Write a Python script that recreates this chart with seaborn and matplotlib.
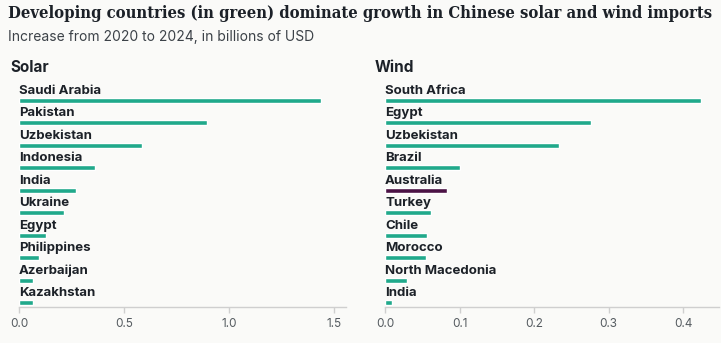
import matplotlib
matplotlib.use("Agg")
import matplotlib.pyplot as plt
import seaborn as sns
import pandas as pd

solar_countries = ["Saudi Arabia", "Pakistan", "Uzbekistan", "Indonesia", "India",
                   "Ukraine", "Egypt", "Philippines", "Azerbaijan", "Kazakhstan"]
solar_values = [1.437, 0.897, 0.586, 0.36, 0.271, 0.213, 0.127, 0.094, 0.068, 0.067]
solar_developing = [True] * 10

wind_countries = ["South Africa", "Egypt", "Uzbekistan", "Brazil", "Australia",
                  "Turkey", "Chile", "Morocco", "North Macedonia", "India"]
wind_values = [0.424, 0.276, 0.233, 0.1005, 0.0835, 0.0617, 0.0563, 0.0545, 0.030, 0.009]
wind_developing = [True, True, True, True, False, True, True, True, True, True]

solar_ticks = [0.0, 0.5, 1.0, 1.5]
wind_ticks = [0.0, 0.1, 0.2, 0.3, 0.4]

title = "Developing countries (in green) dominate growth in Chinese solar and wind imports"
subtitle = "Increase from 2020 to 2024, in billions of USD"

GREEN = "#20A98B"
PURPLE = "#4B1245"
BG = "#FAFAF8"
TEXT = "#1c2128"

sns.set_theme(style="white")
plt.rcParams['font.family'] = ['Inter', 'DejaVu Sans']

W, H = 721, 343
fig = plt.figure(figsize=(W / 100, H / 100), dpi=100, facecolor=BG)

def px_axes(x0, x1, ytop, ybot):
    return fig.add_axes([x0 / W, (H - ybot) / H, (x1 - x0) / W, (ybot - ytop) / H])

def draw(ax, countries, values, developing, ticks, xmax, name):
    df = pd.DataFrame({"country": countries, "value": values,
                       "group": ["dev" if d else "other" for d in developing]})
    sns.barplot(data=df, x="value", y="country", hue="group",
                palette={"dev": GREEN, "other": PURPLE}, dodge=False,
                width=0.22, legend=False, ax=ax, saturation=1)
    ax.set_facecolor(BG)
    ax.set_xlim(0, xmax)
    ax.set_ylim(9.18, -0.98)
    ax.set_yticks([])
    ax.set_ylabel("")
    ax.set_xlabel("")
    for s in ["top", "right", "left"]:
        ax.spines[s].set_visible(False)
    ax.spines["bottom"].set_color("#cfcfcf")
    ax.spines["bottom"].set_linewidth(1.0)
    ax.set_xticks(ticks)
    ax.set_xticklabels([f"{t:.1f}" for t in ticks])
    ax.tick_params(axis="x", colors="#cfcfcf", length=4, width=1, labelcolor="#555b60",
                   labelsize=8.5, pad=4, bottom=True)
    for i, c in enumerate(countries):
        ax.text(0, i - 0.42, c, ha="left", va="center", fontsize=9.5,
                fontweight="bold", color=TEXT)

ax1 = px_axes(19, 346, 78, 306.7)
draw(ax1, solar_countries, solar_values, solar_developing, solar_ticks, 1.557, "Solar")
ax2 = px_axes(385, 719, 78, 306.7)
draw(ax2, wind_countries, wind_values, wind_developing, wind_ticks, 0.448, "Wind")

fig.text(10 / W, 1 - 67 / H, "Solar", ha="left", va="center", fontsize=11,
         fontweight="bold", color=TEXT)
fig.text(375 / W, 1 - 67 / H, "Wind", ha="left", va="center", fontsize=11,
         fontweight="bold", color=TEXT)

fig.text(8 / W, 1 - 13 / H, title, ha="left", va="center", fontsize=11.85,
         fontweight="bold", color=TEXT, family=["DejaVu Serif"], fontstretch="condensed")
fig.text(8 / W, 1 - 37 / H, subtitle, ha="left", va="center", fontsize=10,
         color="#3c4248")

fig.savefig("out.png", dpi=100, facecolor=BG)
